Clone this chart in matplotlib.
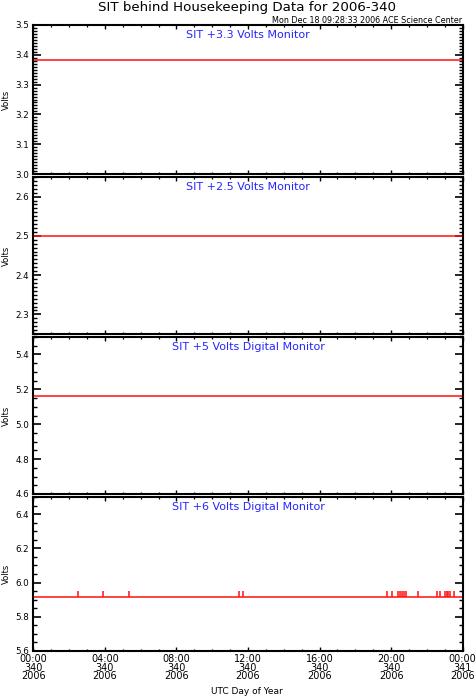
import numpy as np
import matplotlib
matplotlib.use("Agg")
import matplotlib.pyplot as plt
from matplotlib.ticker import MultipleLocator, FixedLocator

# data (hours of day 340)
panel_titles = ["SIT +3.3 Volts Monitor", "SIT +2.5 Volts Monitor",
                "SIT +5 Volts Digital Monitor", "SIT +6 Volts Digital Monitor"]
baselines = [3.382, 2.500, 5.161, 5.913]
ylims = [(3.0, 3.5), (2.25, 2.65), (4.6, 5.5), (5.6, 6.5)]
ymajor = [0.1, 0.1, 0.2, 0.2]
yminor = [0.01, 0.01, 0.05, 0.05]

spike_hours = [2.48, 3.91, 5.35, 11.50, 11.70, 19.75, 20.03, 20.37, 20.50,
               20.61, 20.72, 20.81, 21.50, 22.55, 22.73, 23.01, 23.11,
               23.19, 23.27, 23.53]
spike_value = 5.953

xtick_hours = [0, 4, 8, 12, 16, 20, 24]
xtick_labels = ["00:00\n340\n2006", "04:00\n340\n2006", "08:00\n340\n2006",
                "12:00\n340\n2006", "16:00\n340\n2006", "20:00\n340\n2006",
                "00:00\n341\n2006"]

W, H = 476, 699
fig = plt.figure(figsize=(W / 100, H / 100), dpi=100)
plt.rcParams['font.family'] = ['DejaVu Sans']

# panel edges in pixels (top, bottom)
rows = [(25, 174), (177, 334), (337, 494), (497, 651)]
left, right = 33.3, 462.7

for i, (top, bot) in enumerate(rows):
    ax = fig.add_axes([left / W, 1 - bot / H, (right - left) / W, (bot - top) / H])
    ax.set_xlim(0, 24)
    ax.set_ylim(*ylims[i])
    ax.plot([0, 24], [baselines[i], baselines[i]], color='#ff1010', lw=1.1)
    if i == 3:
        ax.vlines(spike_hours, baselines[i], spike_value, color='#ff1010', lw=1.1)

    ax.yaxis.set_major_locator(MultipleLocator(ymajor[i]))
    ax.yaxis.set_minor_locator(MultipleLocator(yminor[i]))
    ax.xaxis.set_major_locator(FixedLocator(xtick_hours))
    ax.xaxis.set_minor_locator(MultipleLocator(1))
    ax.yaxis.set_major_formatter(matplotlib.ticker.FormatStrFormatter('%.1f'))

    ax.tick_params(axis='both', which='both', direction='in', top=True, right=True,
                   color='black')
    ax.tick_params(axis='y', which='major', length=5.8, width=1.2, labelsize=6.3, pad=3)
    ax.tick_params(axis='y', which='minor', length=2.9, width=1.0)
    ax.tick_params(axis='x', which='major', length=3.0, width=1.0, labelsize=7, pad=2)
    ax.tick_params(axis='x', which='minor', length=1.6, width=0.9)
    for s in ax.spines.values():
        s.set_linewidth(1.5)

    if i == 3:
        ax.set_xticklabels(xtick_labels, linespacing=0.85)
    else:
        ax.set_xticklabels([])

    ax.set_ylabel("Volts", fontsize=6)
    ax.yaxis.set_label_coords(-22.5 / (right - left), 0.5)
    ax.text(0.5, 1 - 10 / (bot - top), panel_titles[i], transform=ax.transAxes,
            ha='center', va='center', color='#2626ff', fontsize=8)

fig.text(247 / W, 1 - 7.5 / H, "SIT behind Housekeeping Data for 2006-340",
         ha='center', va='center', fontsize=9.6)
fig.text(462 / W, 1 - 20.5 / H, "Mon Dec 18 09:28:33 2006 ACE Science Center",
         ha='right', va='center', fontsize=5.8)
fig.text(247 / W, 1 - 692 / H, "UTC Day of Year", ha='center', va='center', fontsize=6.5)

fig.savefig("out.png", dpi=100)
